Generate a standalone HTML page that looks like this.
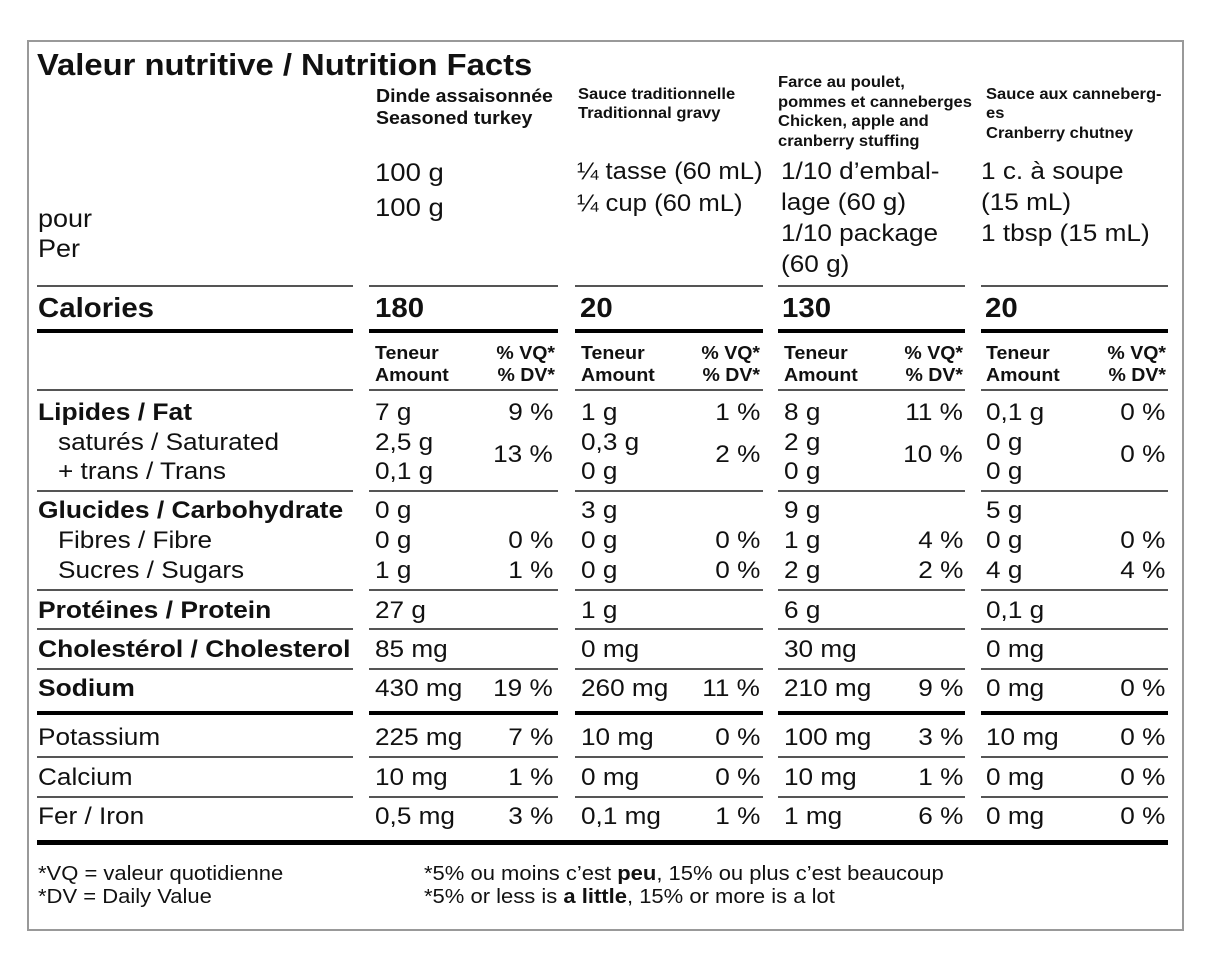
<!DOCTYPE html>
<html>
<head>
<meta charset="utf-8">
<style>
html,body{margin:0;padding:0;background:#fff;}
body{width:1214px;height:971px;position:relative;overflow:hidden;font-family:"Liberation Sans",Arial,Helvetica,sans-serif;color:#111;}
.t{position:absolute;white-space:nowrap;transform-origin:0 0;}
.r{font-size:24px;line-height:24px;transform:scaleX(1.09);}
.b{font-size:24px;font-weight:bold;line-height:24px;transform:scaleX(1.1);}
.hl{position:absolute;height:2px;background:#555;}
.tk{position:absolute;height:4px;background:#000;}
.h1{font-size:18px;font-weight:bold;line-height:22px;transform:scaleX(1.085);}
.h2{font-size:15.5px;font-weight:bold;transform:scaleX(1.067);}
.cal{font-size:28px;font-weight:bold;line-height:28px;transform:scaleX(1.05);}
.fn{font-size:20px;line-height:23px;transform:scaleX(1.1);}
.pr{text-align:right;transform-origin:100% 0;}
</style>
</head>
<body>
<div style="position:absolute;left:27px;top:40px;width:1157px;height:891px;border:2px solid #999;box-sizing:border-box;"></div>

<!-- Title -->
<div class="t" style="left:37px;top:48.8px;font-size:31px;font-weight:bold;line-height:31px;transform:scaleX(1.057);">Valeur nutritive / Nutrition Facts</div>

<!-- Column headers -->
<div class="t h1" style="left:376px;top:84.8px;">Dinde assaisonnée<br>Seasoned turkey</div>
<div class="t h2" style="left:578px;top:84.9px;line-height:19.5px;">Sauce traditionnelle<br>Traditionnal gravy</div>
<div class="t h2" style="left:778px;top:72.8px;line-height:19.7px;">Farce au poulet,<br>pommes et canneberges<br>Chicken, apple and<br>cranberry stuffing</div>
<div class="t h2" style="left:986px;top:85px;line-height:19.3px;">Sauce aux canneberg-<br>es<br>Cranberry chutney</div>

<!-- Servings -->
<div class="t" style="left:38px;top:204.3px;font-size:25px;line-height:30px;transform:scaleX(1.08);">pour<br>Per</div>
<div class="t" style="left:375px;top:155.8px;font-size:25px;line-height:35px;transform:scaleX(1.1);">100 g<br>100 g</div>
<div class="t" style="left:577px;top:155.7px;font-size:24px;line-height:32px;transform:scaleX(1.07);">¼ tasse (60 mL)<br>¼ cup (60 mL)</div>
<div class="t" style="left:781px;top:156.2px;font-size:24px;line-height:31px;transform:scaleX(1.09);">1/10 d’embal-<br>lage (60 g)<br>1/10 package<br>(60 g)</div>
<div class="t" style="left:981px;top:156.2px;font-size:24px;line-height:31px;transform:scaleX(1.09);">1 c. à soupe<br>(15 mL)<br>1 tbsp (15 mL)</div>

<!-- Lines: calories top -->
<div class="hl" style="top:285px;left:37px;width:316px;"></div>
<div class="hl" style="top:285px;left:369px;width:189px;"></div>
<div class="hl" style="top:285px;left:575px;width:188px;"></div>
<div class="hl" style="top:285px;left:778px;width:187px;"></div>
<div class="hl" style="top:285px;left:981px;width:187px;"></div>

<!-- Calories -->
<div class="t cal" style="left:37.5px;top:294.3px;">Calories</div>
<div class="t cal" style="left:375px;top:294.3px;">180</div>
<div class="t cal" style="left:580px;top:294.3px;">20</div>
<div class="t cal" style="left:782px;top:294.3px;">130</div>
<div class="t cal" style="left:985px;top:294.3px;">20</div>

<!-- Thick under calories -->
<div class="tk" style="top:329px;left:37px;width:316px;"></div>
<div class="tk" style="top:329px;left:369px;width:189px;"></div>
<div class="tk" style="top:329px;left:575px;width:188px;"></div>
<div class="tk" style="top:329px;left:778px;width:187px;"></div>
<div class="tk" style="top:329px;left:981px;width:187px;"></div>

<!-- Teneur / %VQ -->
<div class="t h1" style="left:375px;top:341.8px;">Teneur<br>Amount</div>
<div class="t h1 pr" style="right:659px;top:341.8px;">% VQ*<br>% DV*</div>
<div class="t h1" style="left:581px;top:341.8px;">Teneur<br>Amount</div>
<div class="t h1 pr" style="right:454px;top:341.8px;">% VQ*<br>% DV*</div>
<div class="t h1" style="left:784px;top:341.8px;">Teneur<br>Amount</div>
<div class="t h1 pr" style="right:251px;top:341.8px;">% VQ*<br>% DV*</div>
<div class="t h1" style="left:986px;top:341.8px;">Teneur<br>Amount</div>
<div class="t h1 pr" style="right:48px;top:341.8px;">% VQ*<br>% DV*</div>

<!-- thin lines -->
<div class="hl" style="top:388.5px;left:37px;width:316px;"></div>
<div class="hl" style="top:388.5px;left:369px;width:189px;"></div>
<div class="hl" style="top:388.5px;left:575px;width:188px;"></div>
<div class="hl" style="top:388.5px;left:778px;width:187px;"></div>
<div class="hl" style="top:388.5px;left:981px;width:187px;"></div>

<div class="hl" style="top:490px;left:37px;width:316px;"></div>
<div class="hl" style="top:490px;left:369px;width:189px;"></div>
<div class="hl" style="top:490px;left:575px;width:188px;"></div>
<div class="hl" style="top:490px;left:778px;width:187px;"></div>
<div class="hl" style="top:490px;left:981px;width:187px;"></div>

<div class="hl" style="top:589px;left:37px;width:316px;"></div>
<div class="hl" style="top:589px;left:369px;width:189px;"></div>
<div class="hl" style="top:589px;left:575px;width:188px;"></div>
<div class="hl" style="top:589px;left:778px;width:187px;"></div>
<div class="hl" style="top:589px;left:981px;width:187px;"></div>

<div class="hl" style="top:628px;left:37px;width:316px;"></div>
<div class="hl" style="top:628px;left:369px;width:189px;"></div>
<div class="hl" style="top:628px;left:575px;width:188px;"></div>
<div class="hl" style="top:628px;left:778px;width:187px;"></div>
<div class="hl" style="top:628px;left:981px;width:187px;"></div>

<div class="hl" style="top:668px;left:37px;width:316px;"></div>
<div class="hl" style="top:668px;left:369px;width:189px;"></div>
<div class="hl" style="top:668px;left:575px;width:188px;"></div>
<div class="hl" style="top:668px;left:778px;width:187px;"></div>
<div class="hl" style="top:668px;left:981px;width:187px;"></div>

<div class="tk" style="top:711px;left:37px;width:316px;"></div>
<div class="tk" style="top:711px;left:369px;width:189px;"></div>
<div class="tk" style="top:711px;left:575px;width:188px;"></div>
<div class="tk" style="top:711px;left:778px;width:187px;"></div>
<div class="tk" style="top:711px;left:981px;width:187px;"></div>

<div class="hl" style="top:756px;left:37px;width:316px;"></div>
<div class="hl" style="top:756px;left:369px;width:189px;"></div>
<div class="hl" style="top:756px;left:575px;width:188px;"></div>
<div class="hl" style="top:756px;left:778px;width:187px;"></div>
<div class="hl" style="top:756px;left:981px;width:187px;"></div>

<div class="hl" style="top:796px;left:37px;width:316px;"></div>
<div class="hl" style="top:796px;left:369px;width:189px;"></div>
<div class="hl" style="top:796px;left:575px;width:188px;"></div>
<div class="hl" style="top:796px;left:778px;width:187px;"></div>
<div class="hl" style="top:796px;left:981px;width:187px;"></div>

<div class="tk" style="top:840px;left:37px;width:1131px;height:5px;"></div>

<!-- Labels -->
<div class="t b" style="left:37.5px;top:400.7px;">Lipides / Fat</div>
<div class="t r" style="left:58px;top:430.7px;">saturés / Saturated</div>
<div class="t r" style="left:58px;top:459.7px;">+ trans / Trans</div>
<div class="t b" style="left:37.5px;top:498.7px;">Glucides / Carbohydrate</div>
<div class="t r" style="left:58px;top:528.7px;">Fibres / Fibre</div>
<div class="t r" style="left:58px;top:558.7px;">Sucres / Sugars</div>
<div class="t b" style="left:37.5px;top:598.7px;">Protéines / Protein</div>
<div class="t b" style="left:37.5px;top:637.7px;">Cholestérol / Cholesterol</div>
<div class="t b" style="left:37.5px;top:676.7px;">Sodium</div>
<div class="t r" style="left:37.5px;top:725.7px;">Potassium</div>
<div class="t r" style="left:37.5px;top:765.7px;">Calcium</div>
<div class="t r" style="left:37.5px;top:804.7px;">Fer / Iron</div>

<!-- Column 1 -->
<div class="t r" style="left:375px;top:400.7px;">7 g</div>
<div class="t r pr" style="right:661px;top:400.7px;">9 %</div>
<div class="t r" style="left:375px;top:430.7px;">2,5 g</div>
<div class="t r pr" style="right:661px;top:442.7px;">13 %</div>
<div class="t r" style="left:375px;top:459.7px;">0,1 g</div>
<div class="t r" style="left:375px;top:498.7px;">0 g</div>
<div class="t r" style="left:375px;top:528.7px;">0 g</div>
<div class="t r pr" style="right:661px;top:528.7px;">0 %</div>
<div class="t r" style="left:375px;top:558.7px;">1 g</div>
<div class="t r pr" style="right:661px;top:558.7px;">1 %</div>
<div class="t r" style="left:375px;top:598.7px;">27 g</div>
<div class="t r" style="left:375px;top:637.7px;">85 mg</div>
<div class="t r" style="left:375px;top:676.7px;">430 mg</div>
<div class="t r pr" style="right:661px;top:676.7px;">19 %</div>
<div class="t r" style="left:375px;top:725.7px;">225 mg</div>
<div class="t r pr" style="right:661px;top:725.7px;">7 %</div>
<div class="t r" style="left:375px;top:765.7px;">10 mg</div>
<div class="t r pr" style="right:661px;top:765.7px;">1 %</div>
<div class="t r" style="left:375px;top:804.7px;">0,5 mg</div>
<div class="t r pr" style="right:661px;top:804.7px;">3 %</div>

<!-- Column 2 -->
<div class="t r" style="left:581px;top:400.7px;">1 g</div>
<div class="t r pr" style="right:454px;top:400.7px;">1 %</div>
<div class="t r" style="left:581px;top:430.7px;">0,3 g</div>
<div class="t r pr" style="right:454px;top:442.7px;">2 %</div>
<div class="t r" style="left:581px;top:459.7px;">0 g</div>
<div class="t r" style="left:581px;top:498.7px;">3 g</div>
<div class="t r" style="left:581px;top:528.7px;">0 g</div>
<div class="t r pr" style="right:454px;top:528.7px;">0 %</div>
<div class="t r" style="left:581px;top:558.7px;">0 g</div>
<div class="t r pr" style="right:454px;top:558.7px;">0 %</div>
<div class="t r" style="left:581px;top:598.7px;">1 g</div>
<div class="t r" style="left:581px;top:637.7px;">0 mg</div>
<div class="t r" style="left:581px;top:676.7px;">260 mg</div>
<div class="t r pr" style="right:454px;top:676.7px;">11 %</div>
<div class="t r" style="left:581px;top:725.7px;">10 mg</div>
<div class="t r pr" style="right:454px;top:725.7px;">0 %</div>
<div class="t r" style="left:581px;top:765.7px;">0 mg</div>
<div class="t r pr" style="right:454px;top:765.7px;">0 %</div>
<div class="t r" style="left:581px;top:804.7px;">0,1 mg</div>
<div class="t r pr" style="right:454px;top:804.7px;">1 %</div>

<!-- Column 3 -->
<div class="t r" style="left:784px;top:400.7px;">8 g</div>
<div class="t r pr" style="right:251px;top:400.7px;">11 %</div>
<div class="t r" style="left:784px;top:430.7px;">2 g</div>
<div class="t r pr" style="right:251px;top:442.7px;">10 %</div>
<div class="t r" style="left:784px;top:459.7px;">0 g</div>
<div class="t r" style="left:784px;top:498.7px;">9 g</div>
<div class="t r" style="left:784px;top:528.7px;">1 g</div>
<div class="t r pr" style="right:251px;top:528.7px;">4 %</div>
<div class="t r" style="left:784px;top:558.7px;">2 g</div>
<div class="t r pr" style="right:251px;top:558.7px;">2 %</div>
<div class="t r" style="left:784px;top:598.7px;">6 g</div>
<div class="t r" style="left:784px;top:637.7px;">30 mg</div>
<div class="t r" style="left:784px;top:676.7px;">210 mg</div>
<div class="t r pr" style="right:251px;top:676.7px;">9 %</div>
<div class="t r" style="left:784px;top:725.7px;">100 mg</div>
<div class="t r pr" style="right:251px;top:725.7px;">3 %</div>
<div class="t r" style="left:784px;top:765.7px;">10 mg</div>
<div class="t r pr" style="right:251px;top:765.7px;">1 %</div>
<div class="t r" style="left:784px;top:804.7px;">1 mg</div>
<div class="t r pr" style="right:251px;top:804.7px;">6 %</div>

<!-- Column 4 -->
<div class="t r" style="left:986px;top:400.7px;">0,1 g</div>
<div class="t r pr" style="right:49px;top:400.7px;">0 %</div>
<div class="t r" style="left:986px;top:430.7px;">0 g</div>
<div class="t r pr" style="right:49px;top:442.7px;">0 %</div>
<div class="t r" style="left:986px;top:459.7px;">0 g</div>
<div class="t r" style="left:986px;top:498.7px;">5 g</div>
<div class="t r" style="left:986px;top:528.7px;">0 g</div>
<div class="t r pr" style="right:49px;top:528.7px;">0 %</div>
<div class="t r" style="left:986px;top:558.7px;">4 g</div>
<div class="t r pr" style="right:49px;top:558.7px;">4 %</div>
<div class="t r" style="left:986px;top:598.7px;">0,1 g</div>
<div class="t r" style="left:986px;top:637.7px;">0 mg</div>
<div class="t r" style="left:986px;top:676.7px;">0 mg</div>
<div class="t r pr" style="right:49px;top:676.7px;">0 %</div>
<div class="t r" style="left:986px;top:725.7px;">10 mg</div>
<div class="t r pr" style="right:49px;top:725.7px;">0 %</div>
<div class="t r" style="left:986px;top:765.7px;">0 mg</div>
<div class="t r pr" style="right:49px;top:765.7px;">0 %</div>
<div class="t r" style="left:986px;top:804.7px;">0 mg</div>
<div class="t r pr" style="right:49px;top:804.7px;">0 %</div>

<!-- Footnotes -->
<div class="t fn" style="left:38px;top:862.6px;">*VQ = valeur quotidienne<br>*DV = Daily Value</div>
<div class="t fn" style="left:424px;top:862.6px;">*5% ou moins c’est <b>peu</b>, 15% ou plus c’est beaucoup<br>*5% or less is <b>a little</b>, 15% or more is a lot</div>
</body>
</html>
